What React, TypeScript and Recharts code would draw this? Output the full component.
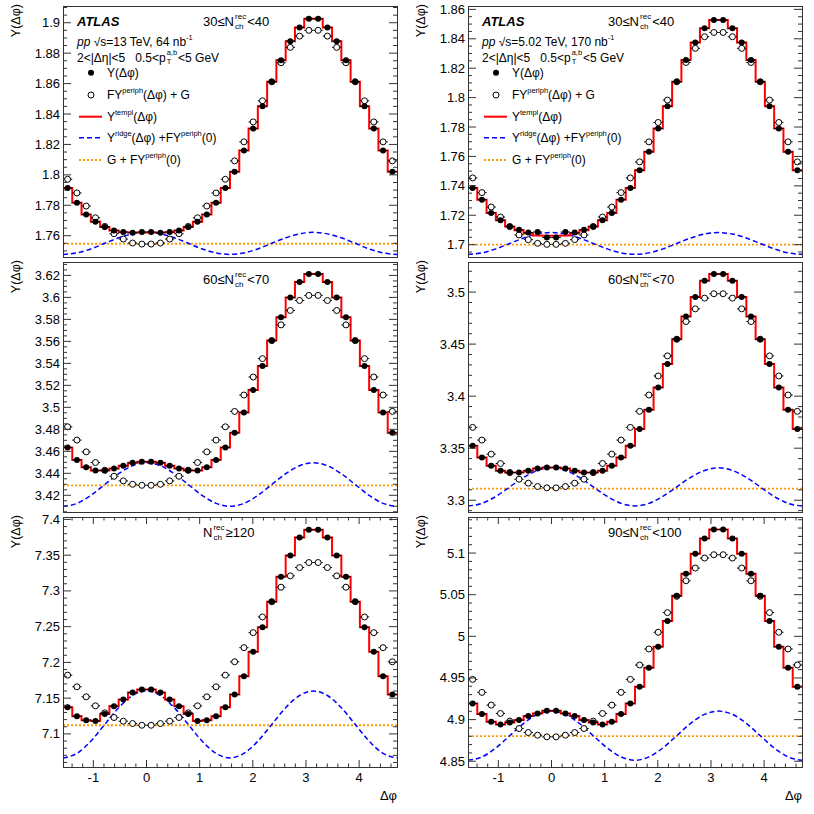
import React from 'react';
import { ComposedChart, XAxis, YAxis, Line, Scatter, ReferenceLine } from 'recharts';

// 36 bins of Δφ over [-π/2, 3π/2]
const N_BINS = 36;
const X_MIN = -Math.PI / 2;
const X_MAX = (3 * Math.PI) / 2;
const BIN_W = (X_MAX - X_MIN) / N_BINS;
const BIN_CENTERS = Array.from({ length: N_BINS }, (_, k) => X_MIN + (k + 0.5) * BIN_W);
const BIN_EDGES = Array.from({ length: N_BINS + 1 }, (_, k) => X_MIN + k * BIN_W);
// ridge curves read every π/12
const RIDGE_X = Array.from({ length: 25 }, (_, k) => X_MIN + (k * Math.PI) / 12);
const X_TICKS = [
  -1.4, -1.2, -1, -0.8, -0.6, -0.4, -0.2, 0, 0.2, 0.4, 0.6, 0.8, 1, 1.2, 1.4, 1.6, 1.8, 2, 2.2, 2.4, 2.6,
  2.8, 3, 3.2, 3.4, 3.6, 3.8, 4, 4.2, 4.4, 4.6,
];

// 13 TeV, 30<=Nch<40
const TL_DATA = [
  1.7914, 1.7817, 1.774, 1.7692, 1.7657, 1.7635, 1.7624, 1.762, 1.7624, 1.7624, 1.762, 1.7624, 1.7635, 1.7657, 1.7692, 1.774, 1.7817, 1.7914,
  1.8021, 1.816, 1.8304, 1.8451, 1.8612, 1.8754, 1.8879, 1.8969, 1.9026, 1.9026, 1.8969, 1.8879, 1.8754, 1.8612, 1.8451, 1.8304, 1.816, 1.8021,
];
const TL_PERIPH = [
  1.7971, 1.7881, 1.7795, 1.7718, 1.7661, 1.7613, 1.7578, 1.7552, 1.7545, 1.7545, 1.7552, 1.7578, 1.7613, 1.7661, 1.7718, 1.7795, 1.7881, 1.7971,
  1.8092, 1.8217, 1.8348, 1.8487, 1.8612, 1.8737, 1.8838, 1.8912, 1.895, 1.895, 1.8912, 1.8838, 1.8737, 1.8612, 1.8487, 1.8348, 1.8217, 1.8092,
];
const TL_TEMPL = [
  1.7914, 1.7817, 1.774, 1.7692, 1.7657, 1.7634, 1.7623, 1.7621, 1.7621, 1.7621, 1.7621, 1.7623, 1.7634, 1.7657, 1.7692, 1.774, 1.7817, 1.7914,
  1.8021, 1.816, 1.8304, 1.8451, 1.8612, 1.8754, 1.8879, 1.8969, 1.9026, 1.9026, 1.8969, 1.8879, 1.8754, 1.8612, 1.8451, 1.8304, 1.816, 1.8021,
];
const TL_RIDGE = [
  1.7477, 1.7487, 1.7513, 1.755, 1.7586, 1.7612, 1.7622, 1.7612, 1.7586, 1.755, 1.7513, 1.7487, 1.7477,
  1.7487, 1.7513, 1.755, 1.7586, 1.7612, 1.7622, 1.7612, 1.7586, 1.755, 1.7513, 1.7487, 1.7477,
];
const TL_FLAT = 1.7547;

// 5.02 TeV, 30<=Nch<40
const TR_DATA = [
  1.7386, 1.7306, 1.7216, 1.7166, 1.7123, 1.7102, 1.7082, 1.7086, 1.7048, 1.7048, 1.7086, 1.7082, 1.7102, 1.7123, 1.7166, 1.7216, 1.7306, 1.7386,
  1.7506, 1.7631, 1.779, 1.7942, 1.8108, 1.8255, 1.8375, 1.8471, 1.8527, 1.8527, 1.8471, 1.8375, 1.8255, 1.8108, 1.7942, 1.779, 1.7631, 1.7506,
];
const TR_PERIPH = [
  1.7454, 1.7354, 1.7256, 1.7188, 1.7123, 1.7066, 1.7034, 1.7009, 1.7002, 1.7002, 1.7009, 1.7034, 1.7066, 1.7123, 1.7188, 1.7256, 1.7354, 1.7454,
  1.7563, 1.7699, 1.7831, 1.7983, 1.8108, 1.8239, 1.8335, 1.8414, 1.8443, 1.8443, 1.8414, 1.8335, 1.8239, 1.8108, 1.7983, 1.7831, 1.7699, 1.7563,
];
const TR_TEMPL = [
  1.7386, 1.7306, 1.7216, 1.7166, 1.7123, 1.7098, 1.7076, 1.7062, 1.7061, 1.7061, 1.7062, 1.7076, 1.7098, 1.7123, 1.7166, 1.7216, 1.7306, 1.7386,
  1.7506, 1.7631, 1.779, 1.7942, 1.8108, 1.8255, 1.8375, 1.8471, 1.8527, 1.8527, 1.8471, 1.8375, 1.8255, 1.8108, 1.7942, 1.779, 1.7631, 1.7506,
];
const TR_RIDGE = [
  1.6934, 1.6944, 1.6971, 1.7008, 1.7045, 1.7072, 1.7082, 1.7072, 1.7045, 1.7008, 1.6971, 1.6944, 1.6934,
  1.6944, 1.6971, 1.7008, 1.7045, 1.7072, 1.7082, 1.7072, 1.7045, 1.7008, 1.6971, 1.6944, 1.6934,
];
const TR_FLAT = 1.7;

// 13 TeV, 60<=Nch<70
const ML_DATA = [
  3.4635, 3.4522, 3.4455, 3.4425, 3.4425, 3.4443, 3.4468, 3.4495, 3.4504, 3.4504, 3.4495, 3.4468, 3.4443, 3.4425, 3.4425, 3.4455, 3.4522, 3.4635,
  3.4768, 3.4954, 3.5157, 3.5376, 3.5607, 3.582, 3.5999, 3.6139, 3.6212, 3.6212, 3.6139, 3.5999, 3.582, 3.5607, 3.5376, 3.5157, 3.4954, 3.4768,
];
const ML_PERIPH = [
  3.4823, 3.4702, 3.4595, 3.4498, 3.4428, 3.4373, 3.4331, 3.43, 3.4291, 3.4291, 3.43, 3.4331, 3.4373, 3.4428, 3.4498, 3.4595, 3.4702, 3.4823,
  3.4963, 3.5112, 3.5276, 3.5443, 3.5607, 3.575, 3.5881, 3.5972, 3.6018, 3.6018, 3.5972, 3.5881, 3.575, 3.5607, 3.5443, 3.5276, 3.5112, 3.4963,
];
const ML_RIDGE = [
  3.41, 3.4126, 3.4199, 3.4298, 3.4396, 3.4469, 3.4495, 3.4469, 3.4396, 3.4298, 3.4199, 3.4126, 3.41,
  3.4126, 3.4199, 3.4298, 3.4396, 3.4469, 3.4495, 3.4469, 3.4396, 3.4298, 3.4199, 3.4126, 3.41,
];
const ML_FLAT = 3.4291;

// 5.02 TeV, 60<=Nch<70
const MR_DATA = [
  3.3523, 3.3411, 3.3331, 3.3283, 3.3266, 3.3266, 3.3283, 3.3305, 3.3315, 3.3315, 3.3305, 3.3283, 3.3266, 3.3266, 3.3283, 3.3331, 3.3411, 3.3523,
  3.3684, 3.387, 3.4082, 3.431, 3.4547, 3.4766, 3.4952, 3.5109, 3.5173, 3.5173, 3.5109, 3.4952, 3.4766, 3.4547, 3.431, 3.4082, 3.387, 3.3684,
];
const MR_PERIPH = [
  3.37, 3.3578, 3.3443, 3.3353, 3.3266, 3.3202, 3.3164, 3.3132, 3.3119, 3.3119, 3.3132, 3.3164, 3.3202, 3.3266, 3.3353, 3.3443, 3.3578, 3.37,
  3.3854, 3.4011, 3.4194, 3.4387, 3.4547, 3.4717, 3.4839, 3.4942, 3.4984, 3.4984, 3.4942, 3.4839, 3.4717, 3.4547, 3.4387, 3.4194, 3.4011, 3.3854,
];
const MR_RIDGE = [
  3.2945, 3.297, 3.3037, 3.3128, 3.322, 3.3286, 3.3311, 3.3286, 3.322, 3.3128, 3.3037, 3.297, 3.2945,
  3.297, 3.3037, 3.3128, 3.322, 3.3286, 3.3311, 3.3286, 3.322, 3.3128, 3.3037, 3.297, 3.2945,
];
const MR_FLAT = 3.3112;

// 13 TeV, Nch>=120
const BL_DATA = [
  7.1374, 7.1248, 7.1192, 7.1182, 7.1278, 7.1388, 7.1481, 7.1579, 7.1621, 7.1621, 7.1579, 7.1481, 7.1388, 7.1278, 7.1182, 7.1192, 7.1248, 7.1374,
  7.1551, 7.1808, 7.215, 7.2491, 7.285, 7.3197, 7.3495, 7.3748, 7.3856, 7.3856, 7.3748, 7.3495, 7.3197, 7.285, 7.2491, 7.215, 7.1808, 7.1551,
];
const BL_PERIPH = [
  7.1822, 7.1659, 7.1519, 7.1393, 7.1295, 7.1229, 7.1178, 7.1145, 7.1121, 7.1121, 7.1145, 7.1178, 7.1229, 7.1295, 7.1393, 7.1519, 7.1659, 7.1822,
  7.2009, 7.2206, 7.2416, 7.2636, 7.285, 7.3052, 7.3211, 7.3327, 7.3397, 7.3397, 7.3327, 7.3211, 7.3052, 7.285, 7.2636, 7.2416, 7.2206, 7.2009,
];
const BL_RIDGE = [
  7.0664, 7.0727, 7.0898, 7.1132, 7.1366, 7.1537, 7.16, 7.1537, 7.1366, 7.1132, 7.0898, 7.0727, 7.0664,
  7.0727, 7.0898, 7.1132, 7.1366, 7.1537, 7.16, 7.1537, 7.1366, 7.1132, 7.0898, 7.0727, 7.0664,
];
const BL_FLAT = 7.1121;

// 5.02 TeV, 90<=Nch<100
const BR_DATA = [
  4.9194, 4.9066, 4.8974, 4.8941, 4.8965, 4.8994, 4.9042, 4.9074, 4.9106, 4.9106, 4.9074, 4.9042, 4.8994, 4.8965, 4.8941, 4.8974, 4.9066, 4.9194,
  4.9395, 4.9624, 4.9876, 5.0185, 5.0486, 5.0751, 5.0992, 5.1175, 5.1283, 5.1283, 5.1175, 5.0992, 5.0751, 5.0486, 5.0185, 4.9876, 4.9624, 4.9395,
];
const BR_PERIPH = [
  4.9483, 4.9327, 4.9174, 4.9074, 4.8982, 4.8893, 4.8845, 4.8813, 4.8793, 4.8793, 4.8813, 4.8845, 4.8893, 4.8982, 4.9074, 4.9174, 4.9327, 4.9483,
  4.9656, 4.9848, 5.0049, 5.0285, 5.048, 5.0667, 5.082, 5.094, 5.098, 5.098, 5.094, 5.082, 5.0667, 5.048, 5.0285, 5.0049, 4.9848, 4.9656,
];
const BR_RIDGE = [
  4.8512, 4.8552, 4.866, 4.8807, 4.8955, 4.9063, 4.9102, 4.9063, 4.8955, 4.8807, 4.866, 4.8552, 4.8512,
  4.8552, 4.866, 4.8807, 4.8955, 4.9063, 4.9102, 4.9063, 4.8955, 4.8807, 4.866, 4.8552, 4.8512,
];
const BR_FLAT = 4.8801;

// layout
const PLOT_W = 334;
const COL_X = [63, 468];
const ROW_Y = [6, 262, 517];
const ROW_H = [251, 250, 250];
const AXIS_W = 52;
const PAD_T = 10;
const PAD_R = 3;
const HALF_BIN_PX = PLOT_W / N_BINS / 2;
const FONT = '"Liberation Sans", Arial, Helvetica, sans-serif';
const RED = '#ff0000';
const BLUE = '#0000ff';
const ORANGE = '#ff9900';
const FRAME = '#333';

function makeTicks(lo: number, hi: number, step: number) {
  const out: number[] = [];
  for (let i = Math.ceil(lo / step - 1e-9); i * step <= hi + 1e-9; i++) out.push(+(i * step).toFixed(4));
  return out;
}

const isMultiple = (v: number, step: number) => Math.abs(v / step - Math.round(v / step)) < 1e-4;

function XTick(p: any) {
  const { x, y, payload, h, showLabel } = p;
  const v = payload.value;
  const major = isMultiple(v, 1);
  const len = major ? 7 : 3.5;
  return (
    <g>
      <line x1={x} x2={x} y1={y} y2={y - len} stroke={FRAME} />
      <line x1={x} x2={x} y1={y - h} y2={y - h + len} stroke={FRAME} />
      {showLabel && major && (
        <text x={x} y={y + 15} textAnchor="middle" fontSize={13} fontFamily={FONT} fill="#000">
          {Math.round(v)}
        </text>
      )}
    </g>
  );
}

function YTick(p: any) {
  const { x, y, payload, major: step } = p;
  const v = payload.value;
  const major = isMultiple(v, step);
  const len = major ? 8 : 4;
  return (
    <g>
      <line x1={x} x2={x + len} y1={y} y2={y} stroke={FRAME} />
      <line x1={x + PLOT_W} x2={x + PLOT_W - len} y1={y} y2={y} stroke={FRAME} />
      {major && (
        <text x={x - 3} y={y + 4.5} textAnchor="end" fontSize={13} fontFamily={FONT} fill="#000">
          {parseFloat(v.toFixed(3)).toString()}
        </text>
      )}
    </g>
  );
}

function FilledMarker(p: any) {
  const { cx, cy } = p;
  return (
    <g>
      <line x1={cx - HALF_BIN_PX} x2={cx + HALF_BIN_PX} y1={cy} y2={cy} stroke="#000" />
      <circle cx={cx} cy={cy} r={3} fill="#000" />
    </g>
  );
}

function OpenMarker(p: any) {
  const { cx, cy } = p;
  return (
    <g>
      <line x1={cx - HALF_BIN_PX} x2={cx + HALF_BIN_PX} y1={cy} y2={cy} stroke="#000" />
      <circle cx={cx} cy={cy} r={3} fill="#fff" stroke="#000" strokeWidth={1} />
    </g>
  );
}

const Sup = ({ children }: any) => (
  <span style={{ fontSize: '0.62em', position: 'relative', top: '-0.75em' }}>{children}</span>
);

function Stack({ sup, sub, size }: any) {
  const s = size * 0.62;
  return (
    <span
      style={{
        display: 'inline-flex',
        flexDirection: 'column',
        fontSize: s,
        lineHeight: `${s * 1.2}px`,
        verticalAlign: `${size * 0.55}px`,
        margin: '0 1px',
      }}
    >
      <span>{sup}</span>
      <span>{sub}</span>
    </span>
  );
}

function Txt({ x, y, size, children, bold, italic }: any) {
  return (
    <div
      style={{
        position: 'absolute',
        left: x,
        top: y - size * 0.75,
        fontSize: size,
        lineHeight: `${size * 1.5}px`,
        height: size * 1.5,
        whiteSpace: 'nowrap',
        fontWeight: bold ? 700 : 400,
        fontStyle: italic ? 'italic' : 'normal',
        fontFamily: FONT,
        color: '#000',
      }}
    >
      {children}
    </div>
  );
}

type PanelSpec = {
  col: number;
  row: number;
  domain: [number, number];
  major: number;
  minor: number;
  data: number[];
  periph: number[];
  templ: number[];
  ridge: number[];
  flat: number;
  label: React.ReactNode;
  energy?: string;
  lumi?: string;
};

const nch = (pre: string, post: string) => (
  <>
    {pre}N
    <Stack sup="rec" sub="ch" size={13} />
    {post}
  </>
);

const PANELS: PanelSpec[] = [
  { col: 0, row: 0, domain: [1.746, 1.911], major: 0.02, minor: 0.005, data: TL_DATA, periph: TL_PERIPH, templ: TL_TEMPL, ridge: TL_RIDGE, flat: TL_FLAT, label: nch('30≤', '<40'), energy: '13', lumi: '64' },
  { col: 1, row: 0, domain: [1.6916, 1.8623], major: 0.02, minor: 0.005, data: TR_DATA, periph: TR_PERIPH, templ: TR_TEMPL, ridge: TR_RIDGE, flat: TR_FLAT, label: nch('30≤', '<40'), energy: '5.02', lumi: '170' },
  { col: 0, row: 1, domain: [3.4048, 3.6322], major: 0.02, minor: 0.005, data: ML_DATA, periph: ML_PERIPH, templ: ML_DATA, ridge: ML_RIDGE, flat: ML_FLAT, label: nch('60≤', '<70') },
  { col: 1, row: 1, domain: [3.2887, 3.5289], major: 0.05, minor: 0.01, data: MR_DATA, periph: MR_PERIPH, templ: MR_DATA, ridge: MR_RIDGE, flat: MR_FLAT, label: nch('60≤', '<70') },
  { col: 0, row: 2, domain: [7.0537, 7.4034], major: 0.05, minor: 0.01, data: BL_DATA, periph: BL_PERIPH, templ: BL_DATA, ridge: BL_RIDGE, flat: BL_FLAT, label: nch('', '≥120') },
  { col: 1, row: 2, domain: [4.8431, 5.1433], major: 0.05, minor: 0.01, data: BR_DATA, periph: BR_PERIPH, templ: BR_DATA, ridge: BR_RIDGE, flat: BR_FLAT, label: nch('90≤', '<100') },
];

function Panel({ spec }: { spec: PanelSpec }) {
  const left = COL_X[spec.col];
  const top = ROW_Y[spec.row];
  const h = ROW_H[spec.row];
  const bottom = spec.row === 2;
  const xh = bottom ? 30 : 0;
  const yTicks = makeTicks(spec.domain[0], spec.domain[1], spec.minor);
  const points = BIN_CENTERS.map((x, k) => ({ x, y: spec.data[k] }));
  const periph = BIN_CENTERS.map((x, k) => ({ x, y: spec.periph[k] }));
  const templ = BIN_EDGES.map((x, k) => ({ x, y: spec.templ[Math.min(k, N_BINS - 1)] }));
  const ridge = RIDGE_X.map((x, k) => ({ x, y: spec.ridge[k] }));
  return (
    <div style={{ position: 'absolute', left: left - AXIS_W, top: top - PAD_T }}>
      <ComposedChart
        width={AXIS_W + PLOT_W + PAD_R}
        height={PAD_T + h + xh}
        margin={{ top: PAD_T, right: PAD_R, bottom: 0, left: 0 }}
      >
        <XAxis
          dataKey="x"
          type="number"
          domain={[X_MIN, X_MAX]}
          allowDataOverflow
          ticks={X_TICKS}
          interval={0}
          height={xh}
          axisLine={false}
          tickLine={false}
          tickSize={0}
          tickMargin={0}
          tick={(p: any) => <XTick {...p} h={h} showLabel={bottom} />}
        />
        <YAxis
          type="number"
          domain={spec.domain}
          allowDataOverflow
          ticks={yTicks}
          interval={0}
          width={AXIS_W}
          axisLine={false}
          tickLine={false}
          tickSize={0}
          tickMargin={0}
          tick={(p: any) => <YTick {...p} major={spec.major} />}
        />
        <ReferenceLine y={spec.flat} stroke={ORANGE} strokeWidth={1.8} strokeDasharray="2 2" />
        <Line data={ridge} dataKey="y" type="monotone" stroke={BLUE} strokeWidth={1.5} strokeDasharray="5 3" dot={false} isAnimationActive={false} />
        <Line data={templ} dataKey="y" type="stepAfter" stroke={RED} strokeWidth={2} dot={false} isAnimationActive={false} />
        <Scatter data={periph} dataKey="y" shape={OpenMarker} isAnimationActive={false} />
        <Scatter data={points} dataKey="y" shape={FilledMarker} isAnimationActive={false} />
      </ComposedChart>
    </div>
  );
}

const LEGEND_Y = [66.7, 89, 110.7, 131.7, 154];

function Header({ spec }: { spec: PanelSpec }) {
  const left = COL_X[spec.col];
  const top = ROW_Y[spec.row];
  return (
    <>
      <Txt x={left + 140} y={top + (spec.row === 1 ? 18 : 16)} size={13}>
        {spec.label}
      </Txt>
      {spec.energy && (
        <>
          <Txt x={left + 14} y={top + 16} size={13} bold italic>
            ATLAS
          </Txt>
          <Txt x={left + 14} y={top + 35.7} size={12}>
            <i>pp</i> √s={spec.energy} TeV, {spec.lumi} nb<Sup>-1</Sup>
          </Txt>
          <Txt x={left + 14} y={top + 52} size={12}>
            2&lt;|Δη|&lt;5{'\u00a0\u00a0\u00a0'}0.5&lt;p
            <Stack sup="a,b" sub="T" size={12} />
            &lt;5 GeV
          </Txt>
          <Txt x={left + 44} y={top + LEGEND_Y[0]} size={12}>
            Y(Δφ)
          </Txt>
          <Txt x={left + 44} y={top + LEGEND_Y[1]} size={12}>
            FY<Sup>periph</Sup>(Δφ) + G
          </Txt>
          <Txt x={left + 44} y={top + LEGEND_Y[2]} size={12}>
            Y<Sup>templ</Sup>(Δφ)
          </Txt>
          <Txt x={left + 44} y={top + LEGEND_Y[3]} size={12}>
            Y<Sup>ridge</Sup>(Δφ) +FY<Sup>periph</Sup>(0)
          </Txt>
          <Txt x={left + 44} y={top + LEGEND_Y[4]} size={12}>
            G + FY<Sup>periph</Sup>(0)
          </Txt>
        </>
      )}
    </>
  );
}

function Overlay() {
  return (
    <svg width={814} height={814} style={{ position: 'absolute', left: 0, top: 0, pointerEvents: 'none' }}>
      {PANELS.map((s, i) => {
        const left = COL_X[s.col];
        const top = ROW_Y[s.row];
        const h = ROW_H[s.row];
        return (
          <g key={i}>
            <rect x={left + 0.5} y={top + 0.5} width={PLOT_W} height={h} fill="none" stroke={FRAME} strokeWidth={1} />
            <text
              transform={`translate(${left - 43}, ${top - 2}) rotate(-90)`}
              textAnchor="end"
              fontSize={12.5}
              fontFamily={FONT}
              fill="#000"
            >
              Y(Δφ)
            </text>
            {s.row === 2 && (
              <text x={left + PLOT_W} y={800} textAnchor="end" fontSize={13} fontFamily={FONT} fill="#000">
                Δφ
              </text>
            )}
            {s.energy && (
              <g>
                <circle cx={left + 28} cy={top + LEGEND_Y[0]} r={3} fill="#000" />
                <circle cx={left + 28} cy={top + LEGEND_Y[1]} r={3} fill="#fff" stroke="#000" />
                <line x1={left + 16} x2={left + 39} y1={top + LEGEND_Y[2]} y2={top + LEGEND_Y[2]} stroke={RED} strokeWidth={2} />
                <line x1={left + 16} x2={left + 39} y1={top + LEGEND_Y[3]} y2={top + LEGEND_Y[3]} stroke={BLUE} strokeWidth={1.5} strokeDasharray="5 3" />
                <line x1={left + 16} x2={left + 39} y1={top + LEGEND_Y[4]} y2={top + LEGEND_Y[4]} stroke={ORANGE} strokeWidth={1.8} strokeDasharray="2 2" />
              </g>
            )}
          </g>
        );
      })}
    </svg>
  );
}

export default function App() {
  return (
    <div style={{ position: 'absolute', left: 0, top: 0, width: 814, height: 814, background: '#fff', overflow: 'hidden', fontFamily: FONT }}>
      {PANELS.map((s, i) => (
        <Panel key={i} spec={s} />
      ))}
      <Overlay />
      {PANELS.map((s, i) => (
        <Header key={i} spec={s} />
      ))}
    </div>
  );
}
